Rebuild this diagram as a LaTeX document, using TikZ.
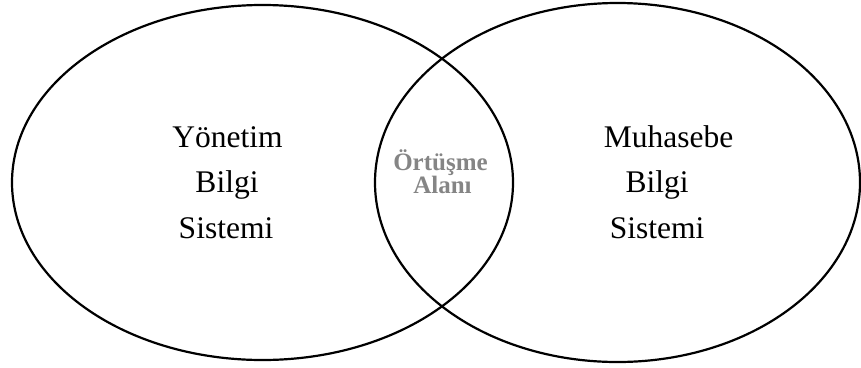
\documentclass[tikz,border=0pt]{standalone}
\usepackage{fontspec}
\setmainfont{Liberation Serif}
\begin{document}
\begin{tikzpicture}[x=1pt,y=-1pt,
  setline/.style={line width=2.2pt},
  settext/.style={anchor=base,inner sep=0pt,font=\fontsize{31.5}{38}\selectfont},
  overlaptext/.style={anchor=base,inner sep=0pt,text=black!48,
    font=\fontsize{25}{30}\selectfont\bfseries}]
  \useasboundingbox (0,0) rectangle (861,367);
  % the two information systems as overlapping sets
  \coordinate (ybs) at (262.5,182.5);
  \coordinate (mbs) at (617.5,182.5);
  \draw[setline] (ybs) ellipse [x radius=250.5, y radius=177.5];
  \draw[setline] (mbs) ellipse [x radius=242.5, y radius=179.5];
  % left set label
  \node[settext] (y1) at (227.5,147.5) {Yönetim};
  \node[settext] (y2) at (227,192.5) {Bilgi};
  \node[settext] (y3) at (226,238) {Sistemi};
  % right set label
  \node[settext] (m1) at (668.5,147.5) {Muhasebe};
  \node[settext] (m2) at (657,192.5) {Bilgi};
  \node[settext] (m3) at (657,238) {Sistemi};
  % shared region
  \node[overlaptext] (o1) at (440.5,170) {Örtüşme};
  \node[overlaptext] (o2) at (442.5,193) {Alanı};
\end{tikzpicture}
\end{document}
